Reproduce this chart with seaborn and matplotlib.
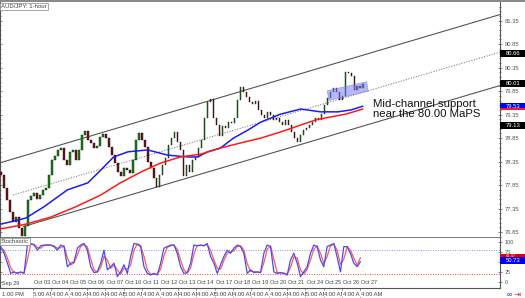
import numpy as np
import matplotlib
matplotlib.use("Agg")
import matplotlib.pyplot as plt
import matplotlib.transforms as mtransforms
from matplotlib.patches import Rectangle, Polygon
import seaborn as sns

# ---------------- data ----------------
closes = [78.07, 77.79, 77.53, 77.28, 77.07, 77.17, 76.94, 76.77, 76.98, 77.53,
          77.62, 77.68, 77.56, 77.64, 77.75, 77.79, 78.07, 78.39, 78.47, 78.60,
          78.64, 78.39, 78.28, 78.56, 78.60, 78.39, 78.60, 78.92, 79.00, 78.81,
          78.75, 78.64, 78.68, 78.88, 78.94, 78.85, 78.66, 78.49, 78.32, 78.13,
          78.05, 78.22, 78.17, 78.11, 78.39, 78.81, 78.96, 78.81, 78.66, 78.34,
          78.22, 78.00, 77.81, 78.07, 78.28, 78.43, 78.71, 78.85, 78.98, 78.77,
          78.60, 78.05, 78.28, 78.13, 78.39, 78.45, 78.64, 78.81, 79.28, 79.62,
          79.68, 79.28, 79.13, 78.90, 79.11, 79.07, 79.19, 79.17, 79.28, 79.66,
          79.94, 79.83, 79.73, 79.62, 79.58, 79.64, 79.45, 79.34, 79.28, 79.41,
          79.34, 79.24, 79.28, 79.19, 79.13, 79.24, 79.13, 78.98, 78.85, 78.77,
          78.92, 79.02, 79.07, 79.13, 79.19, 79.28, 79.24, 79.36, 79.56, 79.70,
          79.83, 79.92, 79.83, 79.66, 79.75, 80.26, 80.24, 80.17, 79.88, 79.96,
          79.92, 80.01]
first_open = 78.12

ma100_hours = [0, 33, 57, 88, 115, 132, 149, 168, 194, 220, 247, 260, 273, 290,
               307, 326, 343, 369, 396, 422, 445, 462, 478]
ma100_vals = [77.02, 77.15, 77.39, 77.75, 77.90, 78.17, 78.45, 78.56, 78.60, 78.49,
              78.45, 78.45, 78.56, 78.64, 78.85, 79.02, 79.19, 79.36, 79.47, 79.41,
              79.41, 79.45, 79.53]

ma200_hours = [0, 33, 66, 99, 132, 158, 185, 211, 237, 264, 290, 317, 343, 369,
               396, 416, 435, 455, 478]
ma200_vals = [76.92, 77.02, 77.17, 77.39, 77.64, 77.90, 78.13, 78.32, 78.45, 78.51,
              78.64, 78.75, 78.85, 78.98, 79.13, 79.24, 79.30, 79.36, 79.47]

stoch_k = [89, 72, 47, 21, 25, 21, 25, 21, 93, 97,
           93, 80, 91, 93, 93, 93, 89, 80, 93, 89,
           38, 47, 50, 85, 93, 97, 80, 38, 23, 25,
           47, 80, 30, 38, 47, 13, 25, 43, 21, 64,
           97, 95, 89, 38, 21, 17, 21, 17, 47, 85,
           89, 93, 93, 72, 38, 21, 23, 47, 93, 91,
           93, 91, 97, 64, 47, 21, 43, 64, 80, 72,
           85, 93, 89, 72, 21, 30, 23, 25, 23, 72,
           93, 89, 25, 21, 23, 21, 17, 55, 72, 47,
           13, 25, 38, 72, 93, 89, 55, 38, 89, 93,
           97, 63, 25, 89, 89, 72, 47, 38, 51]
stoch_d = [85, 80, 60, 35, 23, 23, 23, 23, 55, 95,
           95, 87, 85, 92, 93, 93, 91, 85, 86, 91,
           60, 42, 48, 68, 89, 95, 88, 58, 30, 24,
           36, 64, 55, 34, 42, 30, 19, 34, 32, 42,
           80, 96, 92, 64, 30, 19, 19, 19, 32, 66,
           87, 91, 93, 82, 55, 30, 22, 35, 70, 92,
           92, 92, 94, 80, 55, 34, 32, 54, 72, 76,
           78, 89, 91, 80, 46, 26, 26, 24, 24, 48,
           82, 91, 57, 23, 22, 22, 19, 36, 63, 60,
           30, 19, 32, 55, 82, 91, 72, 46, 64, 91,
           95, 80, 44, 57, 89, 80, 60, 42, 61]

day_labels = ["Oct 03", "Oct 04", "Oct 05", "Oct 06", "Oct 07", "Oct 10", "Oct 11",
              "Oct 12", "Oct 13", "Oct 14", "Oct 17", "Oct 18", "Oct 19", "Oct 20",
              "Oct 21", "Oct 24", "Oct 25", "Oct 26", "Oct 27"]
time_labels = ["5:00 AM", "4:00 AM", "4:00 AM", "4:00 AM", "4:00 AM", "5:00 AM",
               "4:00 AM", "4:00 AM", "4:00 AM", "4:00 AM", "5:00 AM", "4:00 AM",
               "4:00 AM", "4:00 AM", "4:00 AM", "5:00 AM", "4:00 AM", "4:00 AM",
               "4:00 AM"]
first_day_label = "Sep 29"
first_time_label = "1:00 PM"

price_ticks = [76.85, 77.35, 77.85, 78.35, 78.85, 79.35, 79.85, 80.35, 80.85, 81.35]
stoch_ticks = [0, 25, 75, 100]

upper_channel = ([0, 659], [78.33, 81.48])
lower_channel = ([30, 659], [76.97, 79.97])
mid_channel = ([16, 659], [77.64, 80.68])

zone_hours = [431, 483, 485, 433]
zone_prices = [79.86, 80.05, 79.85, 79.65]

price_boxes = [(80.66, "80.66", "black"), (80.01, "80.01", "black"),
               (79.53, "79.53", "#0000ee"), (79.13, "79.13", "black")]
ma200_last = 79.47
stoch_boxes = [(66, "61.47", "#e00000", 4.2, 3.0, "#ffd0d0"),
               (55, "50.73", "#0000ee", 7.0, 4.2, "white")]

# ---------------- layout ----------------
W, H = 525, 298
fig = plt.figure(figsize=(W / 100, H / 100), dpi=100)
sns.set_style("white")
plt.rcParams["font.family"] = ["Liberation Sans", "DejaVu Sans"]

def frac_box(x0, y0, x1, y1):
    return [x0 / W, 1 - y1 / H, (x1 - x0) / W, (y1 - y0) / H]

ax = fig.add_axes(frac_box(0, 2, 500, 238))
axs = fig.add_axes(frac_box(0, 238, 500, 288), sharex=ax)

XMAX = 659
hour_step = 3.956
hours = np.arange(len(closes)) * hour_step
c = np.array(closes)
o = np.r_[first_open, c[:-1]]
cols = np.where(c >= o, "#118a11", "#7a1010")

ax.set_xlim(-1, XMAX)
ax.set_ylim(76.726, 81.747)

# channel lines
ax.plot(*upper_channel, color="#555555", lw=0.8, zorder=2)
ax.plot(*lower_channel, color="#555555", lw=0.8, zorder=2)
ax.plot(*mid_channel, color="#777777", lw=0.7, ls=(0, (1.2, 1.5)), zorder=2)

# candles
ax.bar(hours, c - o, bottom=o, width=hour_step * 0.6, color=cols,
       edgecolor="#111111", linewidth=0.3, zorder=3)

# moving averages
sns.lineplot(x=ma100_hours, y=ma100_vals, ax=ax, color="#1c1cf0", lw=1.1, zorder=4)
sns.lineplot(x=ma200_hours, y=ma200_vals, ax=ax, color="#ff1a1a", lw=1.1, zorder=4)

# highlight zone
ax.add_patch(Polygon(list(zip(zone_hours, zone_prices)), closed=True,
                     facecolor="#7c7cf5", alpha=0.55, edgecolor="#6a6ae8",
                     lw=0.5, zorder=5))

ax.text(492, 79.47, "Mid-channel support\nnear the 80.00 MaPS", fontsize=8.2,
        color="#111111", ha="left", va="center", linespacing=1.0, zorder=6)

ax.text(0.002, 0.992, "AUD/JPY: 1-hour", transform=ax.transAxes, va="top",
        ha="left", fontsize=4.3, color="#444444", zorder=7,
        bbox=dict(facecolor="white", edgecolor="#999999", pad=0.8, lw=0.6))

# axes styling main
ax.spines["top"].set_visible(False)
for s in ["left", "right", "bottom"]:
    ax.spines[s].set_color("#555555")
    ax.spines[s].set_linewidth(0.8)
ax.spines["bottom"].set_linewidth(1.4)
ax.spines["bottom"].set_color("#777777")
ax.set_yticks(price_ticks)
ax.set_yticklabels([f"{v:.2f}" for v in price_ticks])
ax.set_yticks(np.arange(76.75, 81.75, 0.1), minor=True)
ax.tick_params(axis="y", which="both", left=True, right=True, labelleft=False,
               labelright=True, direction="inout", colors="#555555",
               labelsize=4.2, pad=2, width=0.5)
ax.tick_params(axis="y", which="major", length=3)
ax.tick_params(axis="y", which="minor", length=1.6)
ax.tick_params(axis="x", which="both", bottom=False, labelbottom=False)
ax.set_xlabel("")
ax.set_ylabel("")

tr = mtransforms.blended_transform_factory(ax.transAxes, ax.transData)
ppu = 47.0
for val, txt, face in price_boxes:
    h = 7 / ppu
    ax.add_patch(Rectangle((1.0, val - h / 2), 0.05, h, transform=tr,
                           facecolor=face, edgecolor="none", clip_on=False, zorder=8))
    ax.text(1.012, val, txt, transform=tr, color="white", fontsize=4.2,
            va="center", ha="left", clip_on=False, zorder=9)
ax.add_patch(Rectangle((1.0, ma200_last - 1.0 / ppu), 0.05, 1.6 / ppu, transform=tr,
                       facecolor="#ff1a1a", edgecolor="none", clip_on=False, zorder=8))

# ---------------- stochastic ----------------
sx = np.linspace(0, 474.8, len(stoch_k))
axs.set_ylim(-16, 110.9)
axs.axhline(80, color="#8c8cff", lw=0.7, ls=(0, (1, 1.5)), zorder=1)
axs.axhline(20, color="#ff4040", lw=0.7, ls=(0, (1, 1.5)), zorder=1)
sns.lineplot(x=sx, y=stoch_d, ax=axs, color="#ff5a5a", lw=0.9, zorder=2)
sns.lineplot(x=sx, y=stoch_k, ax=axs, color="#4a4af5", lw=0.9, zorder=3)

for s in ["left", "right", "bottom", "top"]:
    axs.spines[s].set_color("#555555")
    axs.spines[s].set_linewidth(0.8)
axs.spines["top"].set_visible(False)
axs.set_yticks(stoch_ticks)
axs.set_yticklabels([str(v) for v in stoch_ticks])
axs.set_yticks([50], minor=True)
axs.tick_params(axis="y", which="both", left=True, right=True, labelleft=False,
                labelright=True, direction="inout", colors="#555555",
                labelsize=4.0, pad=2, width=0.5, length=3)
day_hours = [42.2 + 24 * k for k in range(len(day_labels))]
axs.set_xticks(day_hours)
axs.tick_params(axis="x", which="both", bottom=True, labelbottom=False,
                direction="out", length=9, width=0.5, colors="#777777")
axs.set_xlabel("")
axs.set_ylabel("")

axs.text(0.002, 0.985, "Stochastic", transform=axs.transAxes, va="top", ha="left",
         fontsize=4.3, color="#444444", zorder=7,
         bbox=dict(facecolor="white", edgecolor="#999999", pad=0.8, lw=0.6))

trs = mtransforms.blended_transform_factory(axs.transData, axs.transAxes)
axs.text(1.5, 0.1, first_day_label, transform=trs, fontsize=4, color="#444444",
         ha="left", va="center")
for xh, lab in zip(day_hours, day_labels):
    axs.text(xh + 1.5, 0.1, lab, transform=trs, fontsize=4, color="#444444",
             ha="left", va="center")
axs.text(1.5, -0.12, first_time_label, transform=trs, fontsize=4.2, color="#444444",
         ha="left", va="center", clip_on=False)
for xh, lab in zip(day_hours, time_labels):
    axs.text(xh + 1.0, -0.12, lab, transform=trs, fontsize=4.2, color="#444444",
             ha="left", va="center", clip_on=False,
             bbox=dict(facecolor="white", edgecolor="none", pad=0.3))

trs2 = mtransforms.blended_transform_factory(axs.transAxes, axs.transData)
spu = 0.394
for val, txt, face, hpx, fs, tc in stoch_boxes:
    axs.add_patch(Rectangle((1.0, val - hpx / 2 / spu), 0.05, hpx / spu,
                            transform=trs2, facecolor=face, edgecolor="none",
                            clip_on=False, zorder=8))
    axs.text(1.012, val, txt, transform=trs2, color=tc, fontsize=fs,
             va="center", ha="left", clip_on=False, zorder=9)

# top band and icons
fig.add_artist(Rectangle((0, 1 - 2 / H), 1, 2 / H, transform=fig.transFigure,
                         facecolor="#8a8a8a", edgecolor="none"))
fig.text(505 / W, 1 - 294 / H, "\u221e", color="#2a5bd7", fontsize=6,
         ha="left", va="center", family=["DejaVu Sans"])
fig.text(514 / W, 1 - 294 / H, "\u21e5", color="#e02020", fontsize=6,
         ha="left", va="center", family=["DejaVu Sans"])

fig.savefig("out.png", dpi=100)
